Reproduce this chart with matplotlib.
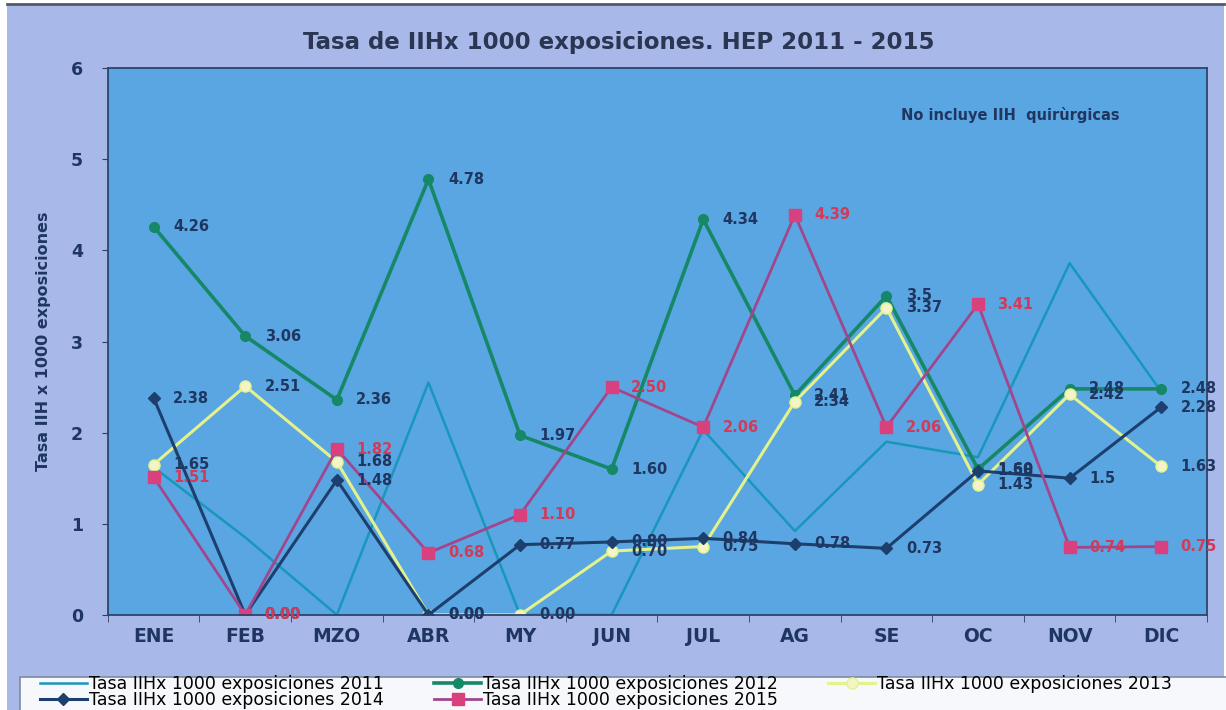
import numpy as np
import matplotlib
matplotlib.use("Agg")
import matplotlib.pyplot as plt
from matplotlib.patches import Rectangle
from matplotlib.lines import Line2D

plt.rcParams['font.family'] = ['DejaVu Sans']

# Months and yearly rates
months = ['ENE', 'FEB', 'MZO', 'ABR', 'MY', 'JUN', 'JUL', 'AG', 'SE', 'OC', 'NOV', 'DIC']
rate_2011 = [1.62, 0.85, 0.00, 2.55, 0.00, 0.00, 2.03, 0.92, 1.90, 1.73, 3.86, 2.45]
rate_2012 = [4.26, 3.06, 2.36, 4.78, 1.97, 1.60, 4.34, 2.41, 3.5, 1.60, 2.48, 2.48]
rate_2013 = [1.65, 2.51, 1.68, 0.00, 0.00, 0.70, 0.75, 2.34, 3.37, 1.43, 2.42, 1.63]
rate_2014 = [2.38, 0.00, 1.48, 0.00, 0.77, 0.80, 0.84, 0.78, 0.73, 1.58, 1.5, 2.28]
rate_2015 = [1.51, 0.00, 1.82, 0.68, 1.10, 2.50, 2.06, 4.39, 2.06, 3.41, 0.74, 0.75]
# points whose label Excel printed without trailing zero
short_labels = {('2012', 8), ('2014', 10)}

outer_bg = '#A8B8E8'
plot_bg = '#5AA6E2'
text_col = '#1F3660'
red_lbl = '#D23A58'

fig = plt.figure(figsize=(12.26, 7.10), dpi=100, facecolor='white')
fig.add_artist(Rectangle((0.006, 0.0), 0.992, 0.995, transform=fig.transFigure,
                         facecolor=outer_bg, edgecolor='none', zorder=-10))
fig.add_artist(Line2D([0.006, 0.998], [0.994, 0.994], transform=fig.transFigure,
                      color='#555a66', linewidth=2))
# white legend box along the bottom
fig.add_artist(Rectangle((0.0165, -0.01), 1.0, 0.0565, transform=fig.transFigure,
                         facecolor='#F7F8FB', edgecolor='#7D8AA0', linewidth=1.2, zorder=-5))

ax = fig.add_axes([0.088, 0.134, 0.8965, 0.770])
ax.set_facecolor(plot_bg)
x = np.arange(len(months))

series = [
    ('2011', rate_2011, dict(color='#1897BC', linewidth=1.8)),
    ('2012', rate_2012, dict(color='#168868', linewidth=2.6, marker='o', markersize=7,
                             markerfacecolor='#168868', markeredgecolor='#168868')),
    ('2013', rate_2013, dict(color='#E4F28C', linewidth=2.2, marker='o', markersize=8,
                             markerfacecolor='#F3F6C4', markeredgecolor='#E4F28C')),
    ('2014', rate_2014, dict(color='#1C3F6E', linewidth=2.2, marker='D', markersize=6,
                             markerfacecolor='#1C3F6E', markeredgecolor='#1C3F6E')),
    ('2015', rate_2015, dict(color='#A2468C', linewidth=2.0, marker='s', markersize=8,
                             markerfacecolor='#D8407E', markeredgecolor='#D8407E')),
]

handles = []
for year, vals, style in series:
    h, = ax.plot(x, vals, label='Tasa IIHx 1000 exposiciones ' + year, **style)
    handles.append(h)
    if year == '2011':
        continue
    for i, v in enumerate(vals):
        txt = f'{v:g}' if (year, i) in short_labels else f'{v:.2f}'
        col = red_lbl if year == '2015' else text_col
        ax.annotate(txt, (x[i], v), xytext=(14, 0), textcoords='offset points',
                    ha='left', va='center', fontsize=10.5, fontweight='bold', color=col)

ax.set_xlim(-0.5, 11.5)
ax.set_ylim(0, 6)
ax.set_xticks(x)
ax.set_xticklabels(months, fontsize=13.5, fontweight='bold', color=text_col)
ax.set_xticks(np.arange(-0.5, 12, 1), minor=True)
ax.tick_params(axis='x', which='major', length=0, pad=9)
ax.tick_params(axis='x', which='minor', length=5, direction='out', color='#2A4060')
ax.set_yticks(range(0, 7))
ax.tick_params(axis='y', length=4, direction='out', color='#2A4060', pad=14,
               labelsize=12.5, labelcolor=text_col)
for t in ax.get_yticklabels():
    t.set_fontweight('bold')
for s in ax.spines.values():
    s.set_color('#2E4468')
    s.set_linewidth(1.3)

ax.set_ylabel('Tasa IIH x 1000 exposiciones', fontsize=11.5, fontweight='bold',
              color=text_col, labelpad=14)
fig.text(0.505, 0.94, 'Tasa de IIHx 1000 exposiciones. HEP 2011 - 2015',
         ha='center', va='center', fontsize=16.5, fontweight='bold', color='#2A3652')
ax.text(0.821, 0.915, 'No incluye IIH  quirùrgicas', transform=ax.transAxes,
        ha='center', va='center', fontsize=10.5, fontweight='bold', color=text_col)

# legend in Excel order: 2011, 2012, 2013 / 2014, 2015
order = [0, 3, 1, 4, 2]
leg = fig.legend([handles[i] for i in order], [handles[i].get_label() for i in order],
                 loc='lower left', bbox_to_anchor=(0.0326, 0.001), ncol=3,
                 fontsize=12.5, handlelength=2.7, handletextpad=0.12, columnspacing=2.9,
                 labelspacing=-0.12, borderpad=0.0, frameon=False, borderaxespad=0)

fig.savefig('out.png', dpi=100, facecolor=fig.get_facecolor())
